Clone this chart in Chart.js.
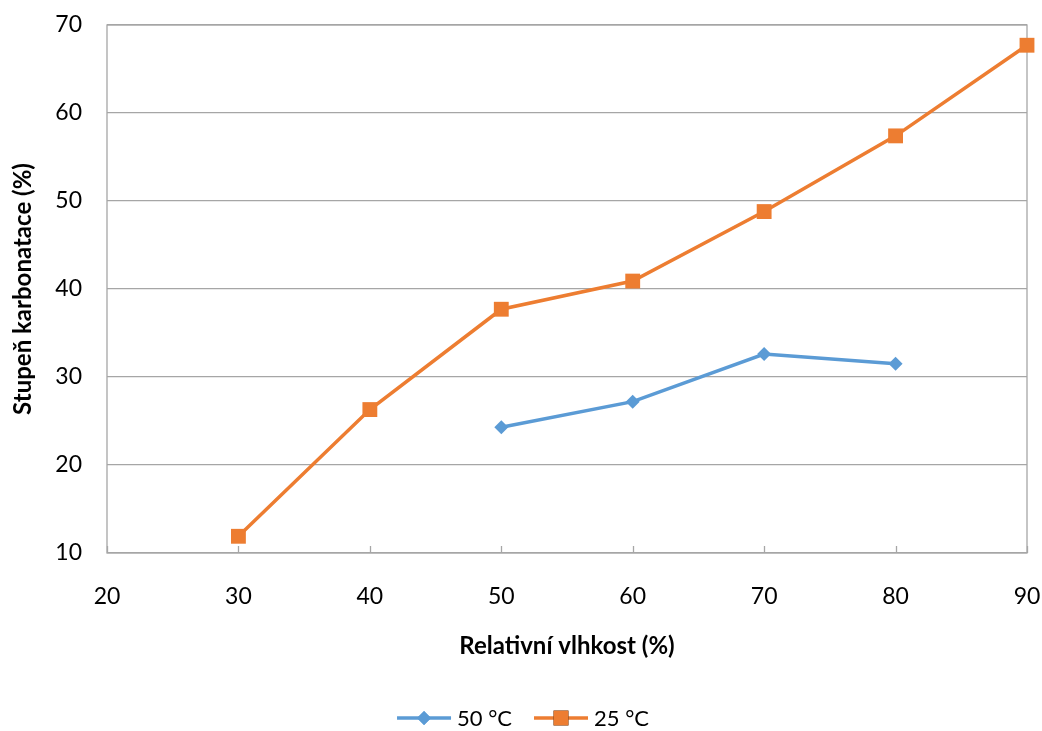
<!DOCTYPE html>
<html>
<head>
<meta charset="utf-8">
<script src="https://cdn.jsdelivr.net/npm/chart.js@4"></script>
<style>
  html, body { margin: 0; padding: 0; background: #fff; }
  #wrap { width: 1042px; height: 731px; position: relative; }
</style>
</head>
<body>
<div id="wrap"><canvas id="chart"></canvas></div>
<script>
// data
const humidity50 = [50, 60, 70, 80];
const carbonation50 = [24.3, 27.2, 32.6, 31.5];
const humidity25 = [30, 40, 50, 60, 70, 80, 90];
const carbonation25 = [11.9, 26.3, 37.7, 40.9, 48.8, 57.4, 67.7];
const seriesNames = ['50 °C', '25 °C'];
const xTicks = [20, 30, 40, 50, 60, 70, 80, 90];
const yTicks = [10, 20, 30, 40, 50, 60, 70];

const FONT = 'Lato, "Open Sans", sans-serif';
const GRID = '#a6a6a6';

const toPoints = (xs, ys) => xs.map((x, i) => ({ x: x, y: ys[i] }));

// frame around plot area + small inner tick marks on the x axis + bottom legend
const framePlugin = {
    id: 'frame',
    beforeDatasetsDraw(chart) {
        const { ctx, chartArea: a, scales } = chart;
        ctx.save();
        ctx.strokeStyle = GRID;
        ctx.lineWidth = 1.3;
        ctx.strokeRect(a.left, a.top, a.right - a.left, a.bottom - a.top);
        xTicks.forEach(v => {
            const px = Math.round(scales.x.getPixelForValue(v)) + 0.5;
            ctx.beginPath();
            ctx.moveTo(px, a.bottom);
            ctx.lineTo(px, a.bottom - 7);
            ctx.stroke();
        });
        ctx.restore();
    },
    afterDraw(chart) {
        const ctx = chart.ctx;
        const y = 718;
        const lineLen = 54;
        ctx.save();
        ctx.font = '22px ' + FONT;
        ctx.textBaseline = 'middle';
        const items = chart.data.datasets.map(ds => ({ ds, w: lineLen + 6 + ctx.measureText(ds.label).width }));
        const gap = 22;
        const total = items.reduce((s, it) => s + it.w, 0) + gap * (items.length - 1);
        let x = chart.width / 2 - total / 2 + 2;
        items.forEach(({ ds, w }) => {
            ctx.strokeStyle = ds.borderColor;
            ctx.lineWidth = 3.5;
            ctx.beginPath();
            ctx.moveTo(x, y);
            ctx.lineTo(x + lineLen, y);
            ctx.stroke();
            Chart.helpers.drawPoint(ctx, {
                pointStyle: ds.pointStyle, radius: ds.pointRadius, borderWidth: 0, rotation: 0
            }, x + lineLen / 2, y);
            ctx.fillStyle = ds.borderColor;
            ctx.fill();
            ctx.fillStyle = '#000';
            ctx.fillText(ds.label, x + lineLen + 6, y + 1);
            x += w + gap;
        });
        ctx.restore();
    }
};

new Chart(document.getElementById('chart'), {
    type: 'line',
    data: {
        datasets: [{
            label: seriesNames[0],
            data: toPoints(humidity50, carbonation50),
            borderColor: '#5b9bd5',
            backgroundColor: '#5b9bd5',
            borderWidth: 3.5,
            pointStyle: 'rectRot',
            pointRadius: 7,
            pointHoverRadius: 7,
            pointBorderWidth: 0,
            tension: 0,
            clip: false
        }, {
            label: seriesNames[1],
            data: toPoints(humidity25, carbonation25),
            borderColor: '#ed7d31',
            backgroundColor: '#ed7d31',
            borderWidth: 3.5,
            pointStyle: 'rect',
            pointRadius: 10.5,
            pointHoverRadius: 10.5,
            pointBorderWidth: 0,
            tension: 0,
            clip: false
        }]
    },
    options: {
        responsive: true, maintainAspectRatio: false,
        animation: false,
        layout: { padding: { top: 25, right: 15, left: 0, bottom: 66 } },
        plugins: { legend: { display: false }, tooltip: { enabled: false } },
        scales: {
            x: {
                type: 'linear', min: 20, max: 90,
                afterBuildTicks: s => { s.ticks = xTicks.map(v => ({ value: v })); },
                afterFit: s => { s.height = 112; s.paddingLeft = 0; s.paddingRight = 0; },
                grid: { display: false, drawTicks: false },
                border: { display: false },
                ticks: { color: '#000', padding: 30, maxRotation: 0, font: { family: FONT, size: 23 } },
                title: {
                    display: true, text: 'Relativní vlhkost (%)', color: '#000',
                    padding: { top: 4, bottom: 4 },
                    font: { family: FONT, size: 24, weight: 'bold' }
                }
            },
            y: {
                min: 10, max: 70,
                afterBuildTicks: s => { s.ticks = yTicks.map(v => ({ value: v })); },
                afterFit: s => { s.width = 107; s.paddingTop = 0; s.paddingBottom = 0; },
                grid: { color: GRID, lineWidth: 1.3, drawTicks: false },
                border: { display: false },
                ticks: { color: '#000', padding: 25, font: { family: FONT, size: 23 } },
                title: {
                    display: true, text: 'Stupeň karbonatace (%)', color: '#000',
                    padding: { top: 9, bottom: 4 },
                    font: { family: FONT, size: 24, weight: 'bold' }
                }
            }
        }
    },
    plugins: [framePlugin]
});
</script>
</body>
</html>
